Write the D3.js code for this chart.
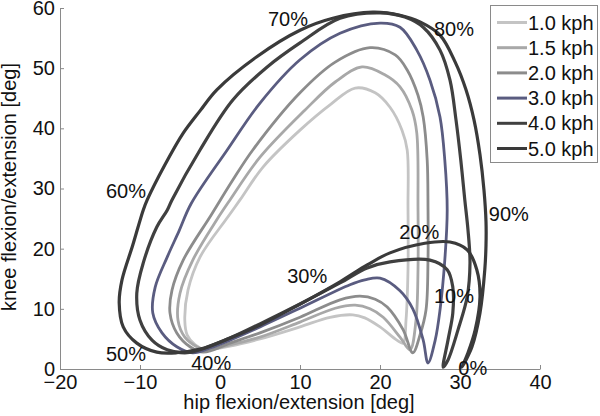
<!DOCTYPE html>
<html>
<head>
<meta charset="utf-8">
<script src="https://cdn.jsdelivr.net/npm/d3@7"></script>
<style>
  body { margin: 0; background: #fff; }
  svg { display: block; font-family: 'Liberation Sans', Arial, sans-serif; }
</style>
</head>
<body>
<div id="chart"></div>
<script>
// hip/knee angle loops [hip, knee] in deg, one gait cycle each
const speeds = ['1.0 kph', '1.5 kph', '2.0 kph', '3.0 kph', '4.0 kph', '5.0 kph'];
const colors = ['#c4c4c4', '#a8a8a8', '#8c8c8c', '#5a5c80', '#404040', '#3a3a3a'];

const kph10 = [[22.9, 4.3], [22.1, 4.8], [20, 7.0], [18.1, 8.5], [16.6, 9.0], [13.75, 8.6], [10, 7.0], [5, 5.0],
  [1.25, 3.8], [-1.9, 3.2], [-3.1, 4.0], [-4.1, 5.65], [-4.4, 8.1], [-4, 13.1], [-2.5, 18.6], [1.0, 25.3],
  [2.5, 28.1], [5.4, 33.6], [10, 39.7], [13.75, 43.9], [16.9, 46.7], [19.4, 45.9], [21.25, 43.5],
  [22.75, 39.7], [23.4, 36.4], [23.5, 26.9], [23.5, 16.5], [23.25, 8.1]];
const kph15 = [[23.75, 3.2], [22.5, 5.3], [20.4, 8.6], [18.75, 10.0], [16.9, 10.6], [14.4, 10.1], [10, 7.8],
  [5, 5.3], [1.25, 4.0], [-1.9, 3.2], [-2.9, 3.7], [-4.4, 5.3], [-5.25, 8.1], [-5, 12.6], [-3.4, 18.1],
  [-0.4, 24.8], [1.25, 28.1], [5, 35.2], [10.6, 43.0], [14.4, 47.7], [17.75, 50.2], [20.6, 48.9], [22.5, 46.9],
  [24, 43.0], [24.6, 39.2], [24.75, 26.9], [24.75, 16.5], [24.5, 8.1]];
const kph20 = [[24.1, 2.7], [22.9, 6.5], [20.9, 10.3], [19.4, 11.6], [17.5, 12.1], [15, 11.5], [10, 8.6],
  [5, 6.0], [1.25, 4.3], [-2.1, 2.8], [-3.75, 3.7], [-5.4, 6.0], [-6.25, 9.3], [-6, 13.1], [-4.6, 18.1],
  [-1.1, 25.6], [1.6, 31.4], [4.1, 36.4], [10, 45.9], [14.4, 51.0], [18.75, 53.4], [21.9, 52.2],
  [23.4, 49.7], [24.75, 45.5], [25.4, 41.9], [25.9, 34.7], [26, 26.9], [26, 18.1], [25.75, 9.8], [25, 5.65]];
const kph30 = [[26, 1.0], [25.4, 4.8], [24.1, 10.0], [22.5, 13.0], [20, 15.1], [18.1, 14.8],
  [16.25, 14.0], [10, 10.1], [5, 7.0], [1.25, 4.8], [-1.25, 3.5], [-3.4, 2.7], [-5.4, 3.7], [-7.25, 6.0],
  [-8.4, 9.3], [-8.1, 13.6], [-6.6, 18.6], [-5.1, 23.0], [-3.6, 27.5], [0.9, 36.4], [5, 44.2], [10, 51.4],
  [15, 55.8], [20, 57.5], [22.5, 56.8], [24.6, 53.0], [26.25, 48.0], [27.5, 41.9], [28.1, 34.7], [28.4, 26.4],
  [28.1, 18.1], [27.5, 9.8], [26.9, 4.8]];
const kph40 = [[27.9, 0.3], [28.5, 4.8], [29.1, 9.3], [29.1, 13.6], [28.4, 16.5], [26.25, 18.1],
  [21.25, 17.8], [18.4, 16.8], [15, 14.3], [10, 10.8], [5, 7.5], [1.25, 5.15], [-2.5, 3.2], [-4.1, 2.7],
  [-6.6, 3.2], [-8.5, 4.8], [-10, 8.1], [-10.4, 12.6], [-9.6, 17.6], [-7.9, 23.6], [-6.6, 26.4], [-6, 28.1],
  [-2.5, 36.4], [1.6, 44.7], [5.9, 50.2], [10, 54.2], [15, 58.3], [20, 59.2], [23.1, 58.5], [25.4, 56.8],
  [27.5, 53.0], [28.75, 48.0], [29.5, 41.4], [30.1, 34.7], [30.6, 28.1], [31, 23.1], [31.25, 17.6],
  [30.9, 12.0], [29.75, 6.5], [28.5, 1.5]];
const kph50 = [[30.25, 0.3], [31, 2.7], [31.9, 6.5], [32.5, 12.0], [32.1, 16.5], [30.9, 19.8], [28.75, 21.1],
  [25.6, 20.9], [21.25, 19.3], [18.4, 17.3], [15, 14.5], [9.6, 10.5], [5, 7.3], [1.25, 5.15], [-2.5, 3.3],
  [-5.4, 2.7], [-7.9, 2.8], [-10.4, 4.3], [-12.1, 7.0], [-12.6, 11.0], [-12.25, 14.8], [-10.9, 20.6],
  [-9.6, 26.4], [-9.1, 28.1], [-6.9, 33.9], [-4.6, 39.2], [-2.5, 42.9], [-0.4, 46.4], [4.6, 51.9],
  [10, 56.3], [14.1, 58.3], [19.1, 59.3], [22.5, 58.8], [25, 57.7], [27.5, 55.5], [29.4, 51.0],
  [30.75, 46.4], [31.75, 41.4], [32.5, 35.6], [33, 29.7], [33.25, 24.5], [33.25, 20.6], [33.1, 16.5],
  [32.5, 9.3], [31.5, 3.7]];
const loops = [kph10, kph15, kph20, kph30, kph40, kph50];

// gait cycle markers (on the outer loop)
const phaseLabels = ['0%', '10%', '20%', '30%', '40%', '50%', '60%', '70%', '80%', '90%'];
const phasePos = [[31.6, 0.2], [29.25, 12.1], [24.9, 22.8], [10.9, 15.5], [-1.1, 1.0],
  [-11.75, 2.5], [-11.75, 29.6], [8.5, 58.2], [29.25, 56.5], [36.1, 25.8]];

const xTicks = [-20, -10, 0, 10, 20, 30, 40];
const yTicks = [0, 10, 20, 30, 40, 50, 60];

const width = 600, height = 416;
const fs = 20;

const x = d3.scaleLinear().domain([-20, 40]).range([60, 540]);
const y = d3.scaleLinear().domain([0, 60]).range([369, 8]);

const svg = d3.select('#chart').append('svg')
  .attr('width', width)
  .attr('height', height);

const line = d3.line()
  .x(d => x(d[0]))
  .y(d => y(d[1]))
  .curve(d3.curveCatmullRomClosed.alpha(0.5));

svg.append('g')
  .selectAll('path')
  .data(loops)
  .join('path')
  .attr('d', line)
  .attr('fill', 'none')
  .attr('stroke', (d, i) => colors[i])
  .attr('stroke-width', (d, i) => (i >= 4 ? 3.2 : 2.8))
  .attr('stroke-linejoin', 'round');

// axes (left + bottom only, ticks inward)
const xAxis = svg.append('g')
  .attr('transform', `translate(0,${y(0)})`)
  .call(d3.axisBottom(x).tickValues(xTicks).tickSizeInner(-4).tickSizeOuter(0).tickPadding(6));
const yAxis = svg.append('g')
  .attr('transform', `translate(${x(-20)},0)`)
  .call(d3.axisLeft(y).tickValues(yTicks).tickSizeInner(-4).tickSizeOuter(0).tickPadding(5));

[xAxis, yAxis].forEach(g => {
  g.select('.domain').attr('stroke', '#8a8a8a');
  g.selectAll('.tick line').attr('stroke', '#8a8a8a');
  g.selectAll('.tick text')
    .attr('fill', '#111')
    .style('font-size', fs + 'px')
    .style('font-family', "'Liberation Sans', Arial, sans-serif");
});

svg.append('text')
  .attr('x', 299)
  .attr('y', 409)
  .attr('text-anchor', 'middle')
  .style('font-size', fs + 'px')
  .attr('fill', '#111')
  .text('hip flexion/extension [deg]');

svg.append('text')
  .attr('transform', 'translate(16,187) rotate(-90)')
  .attr('text-anchor', 'middle')
  .style('font-size', fs + 'px')
  .attr('fill', '#111')
  .text('knee flexion/extension [deg]');

// phase labels
svg.append('g')
  .selectAll('text')
  .data(phaseLabels)
  .join('text')
  .attr('x', (d, i) => x(phasePos[i][0]))
  .attr('y', (d, i) => y(phasePos[i][1]) + 7)
  .attr('text-anchor', 'middle')
  .style('font-size', fs + 'px')
  .attr('fill', '#111')
  .text(d => d);

// legend
const legend = svg.append('g');
legend.append('rect')
  .attr('x', 490.5).attr('y', 5.5)
  .attr('width', 107).attr('height', 157)
  .attr('fill', '#fff')
  .attr('stroke', '#8a8a8a');

const item = legend.selectAll('g.item')
  .data(speeds)
  .join('g')
  .attr('class', 'item')
  .attr('transform', (d, i) => `translate(0,${22.5 + i * 25.2})`);

item.append('line')
  .attr('x1', 497).attr('x2', 527)
  .attr('stroke', (d, i) => colors[i])
  .attr('stroke-width', 3);

item.append('text')
  .attr('x', 528)
  .attr('y', 7)
  .style('font-size', fs + 'px')
  .attr('fill', '#111')
  .text(d => d);
</script>
</body>
</html>
